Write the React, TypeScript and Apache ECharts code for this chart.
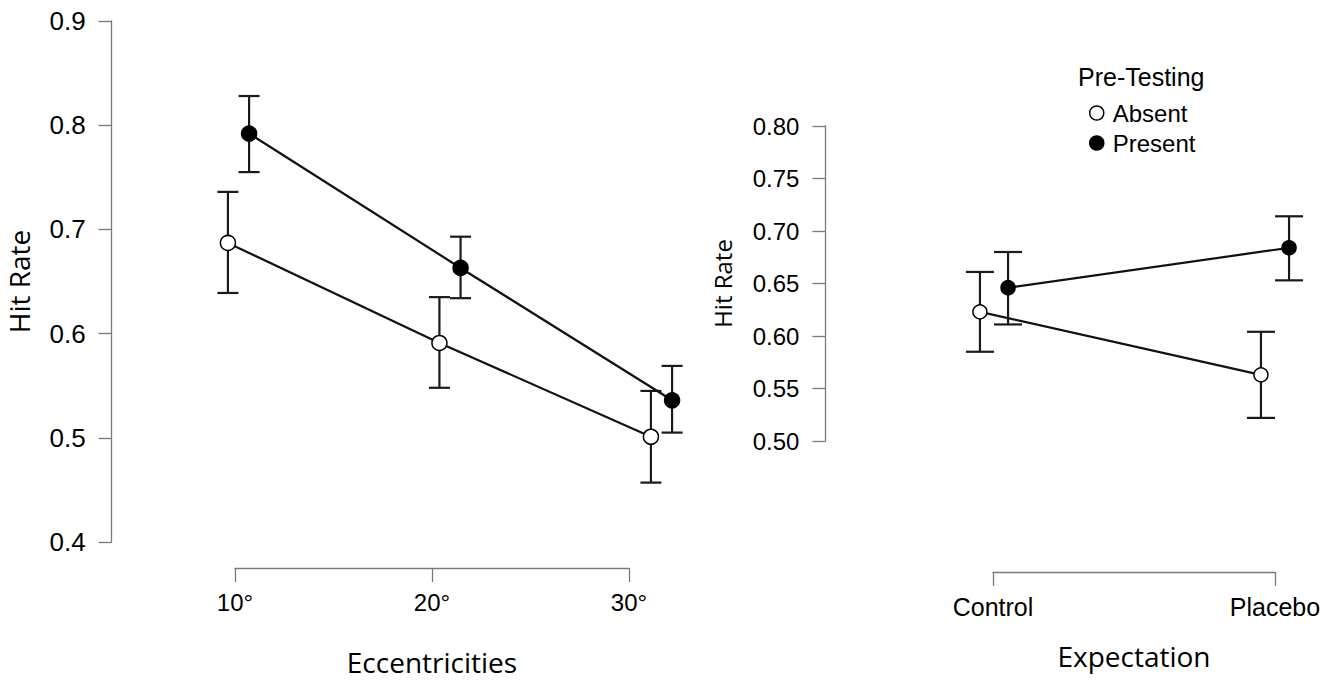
import React, { useEffect, useRef } from "react";
import * as echarts from "echarts";

// ---- Data ----
const eccCategories = ["10°", "20°", "30°"];
const eccAbsent = [0.687, 0.591, 0.501];
const eccAbsentLow = [0.639, 0.548, 0.457];
const eccAbsentHigh = [0.736, 0.635, 0.545];
const eccPresent = [0.792, 0.663, 0.536];
const eccPresentLow = [0.755, 0.634, 0.505];
const eccPresentHigh = [0.828, 0.693, 0.569];

const expCategories = ["Control", "Placebo"];
const expAbsent = [0.623, 0.563];
const expAbsentLow = [0.585, 0.522];
const expAbsentHigh = [0.661, 0.604];
const expPresent = [0.646, 0.684];
const expPresentLow = [0.611, 0.653];
const expPresentHigh = [0.68, 0.714];

const groupNames = ["Absent", "Present"];
const legendTitle = "Pre-Testing";
const dodge = 0.05;

const TICK_FONT = "'Liberation Sans', Arial, sans-serif";
const NAME_FONT = "'Open Sans', 'Noto Sans', sans-serif";
const AXIS_GRAY = "#7a7a7a";

function pts(vals: number[], off: number) {
  return vals.map((v, i) => [i + off, v]);
}
function bars(lo: number[], hi: number[], off: number) {
  return lo.map((l, i) => [i + off, l, hi[i]]);
}

function errSeries(data: number[][], idx: number, cap: number) {
  return {
    type: "custom",
    xAxisIndex: idx,
    yAxisIndex: idx,
    z: 1,
    silent: true,
    encode: { x: 0, y: [1, 2] },
    data,
    renderItem: (params: any, api: any) => {
      const x = api.value(0);
      const p1 = api.coord([x, api.value(2)]);
      const p2 = api.coord([x, api.value(1)]);
      const st = { stroke: "#1a1a1a", lineWidth: 2.2 };
      return {
        type: "group",
        children: [
          { type: "line", shape: { x1: p1[0], y1: p1[1], x2: p2[0], y2: p2[1] }, style: st },
          { type: "line", shape: { x1: p1[0] - cap, y1: p1[1], x2: p1[0] + cap, y2: p1[1] }, style: st },
          { type: "line", shape: { x1: p2[0] - cap, y1: p2[1], x2: p2[0] + cap, y2: p2[1] }, style: st },
        ],
      };
    },
  };
}

function lineSeries(name: string, data: number[][], idx: number, filled: boolean, size: number) {
  return {
    type: "line",
    name,
    xAxisIndex: idx,
    yAxisIndex: idx,
    z: 3,
    data,
    symbol: "circle",
    symbolSize: size,
    lineStyle: { color: "#111", width: 2.2 },
    itemStyle: { color: filled ? "#000" : "#fff", borderColor: "#000", borderWidth: 1.5 },
  };
}

export default function App() {
  const ref = useRef<HTMLDivElement>(null);
  useEffect(() => {
    document.body.style.margin = "0";
    const chart = echarts.init(ref.current!, null, { renderer: "svg" });
    const yAxisCommon = (
      min: number,
      max: number,
      interval: number,
      dec: number,
      gridIndex: number,
      nameSize: number,
      nameGap: number,
      labelSize: number
    ) => ({
      type: "value",
      gridIndex,
      min,
      max,
      interval,
      name: "Hit Rate",
      nameLocation: "middle",
      nameGap,
      nameRotate: 90,
      nameTextStyle: { fontFamily: NAME_FONT, fontSize: nameSize, color: "#000" },
      axisLine: { show: true, onZero: false, lineStyle: { color: AXIS_GRAY, width: 1.3 } },
      axisTick: { show: true, length: 13, lineStyle: { color: AXIS_GRAY, width: 1.3 } },
      axisLabel: {
        margin: 26,
        fontFamily: TICK_FONT,
        fontSize: labelSize,
        color: "#000",
        formatter: (v: number) => v.toFixed(dec),
      },
      splitLine: { show: false },
    });
    const hiddenY = (gridIndex: number) => ({
      type: "value",
      gridIndex,
      show: false,
      min: 0,
      max: 1,
      axisLine: { onZero: false },
    });
    const hiddenX = (gridIndex: number, min: number, max: number) => ({
      type: "value",
      gridIndex,
      show: false,
      min,
      max,
      axisLine: { onZero: false },
    });
    const catX = (gridIndex: number, cats: string[], name: string, nameGap: number, labelSize: number) => ({
      type: "category",
      gridIndex,
      data: cats,
      boundaryGap: false,
      name,
      nameLocation: "middle",
      nameGap,
      nameTextStyle: { fontFamily: NAME_FONT, fontSize: 28, color: "#000" },
      axisLine: { show: true, onZero: false, lineStyle: { color: AXIS_GRAY, width: 1.3 } },
      axisTick: { show: true, length: 14, alignWithLabel: true, lineStyle: { color: AXIS_GRAY, width: 1.3 } },
      axisLabel: { margin: 22, fontFamily: TICK_FONT, fontSize: labelSize, color: "#000" },
      splitLine: { show: false },
    });

    chart.setOption({
      animation: false,
      backgroundColor: "#fff",
      title: {
        text: legendTitle,
        left: 1073,
        top: 59,
        textStyle: { fontFamily: TICK_FONT, fontSize: 25, fontWeight: "normal", color: "#000" },
      },
      legend: {
        orient: "vertical",
        left: 1084,
        top: 96,
        itemGap: 6,
        itemWidth: 14,
        itemHeight: 14,
        icon: "circle",
        textStyle: { fontFamily: TICK_FONT, fontSize: 24, color: "#000", padding: [0, 0, 0, 4] },
        data: [
          { name: groupNames[0], itemStyle: { color: "#fff", borderColor: "#000", borderWidth: 1.5 } },
          { name: groupNames[1], itemStyle: { color: "#000", borderColor: "#000", borderWidth: 1.5 } },
        ],
      },
      grid: [
        { left: 111.6, top: 21, width: 634.5, height: 521 },
        { left: 235, top: 500, width: 394, height: 68 },
        { left: 825.4, top: 126, width: 477.7, height: 315 },
        { left: 993, top: 500, width: 282, height: 72 },
      ],
      xAxis: [
        hiddenX(0, -0.6, 2.4),
        catX(1, eccCategories, "Eccentricities", 80, 24),
        hiddenX(2, -0.6, 1.1),
        catX(3, expCategories, "Expectation", 70, 25),
      ],
      yAxis: [
        yAxisCommon(0.4, 0.9, 0.1, 1, 0, 28, 79, 26),
        hiddenY(1),
        yAxisCommon(0.5, 0.8, 0.05, 2, 2, 24, 91, 24),
        hiddenY(3),
      ],
      series: [
        errSeries(bars(eccAbsentLow, eccAbsentHigh, -dodge), 0, 10.5),
        errSeries(bars(eccPresentLow, eccPresentHigh, dodge), 0, 10.5),
        lineSeries(groupNames[0], pts(eccAbsent, -dodge), 0, false, 15),
        lineSeries(groupNames[1], pts(eccPresent, dodge), 0, true, 15),
        errSeries(bars(expAbsentLow, expAbsentHigh, -dodge), 2, 14),
        errSeries(bars(expPresentLow, expPresentHigh, dodge), 2, 14),
        lineSeries(groupNames[0], pts(expAbsent, -dodge), 2, false, 14),
        lineSeries(groupNames[1], pts(expPresent, dodge), 2, true, 14),
      ],
    });
    return () => chart.dispose();
  }, []);
  return <div ref={ref} style={{ width: 1335, height: 685 }} />;
}
